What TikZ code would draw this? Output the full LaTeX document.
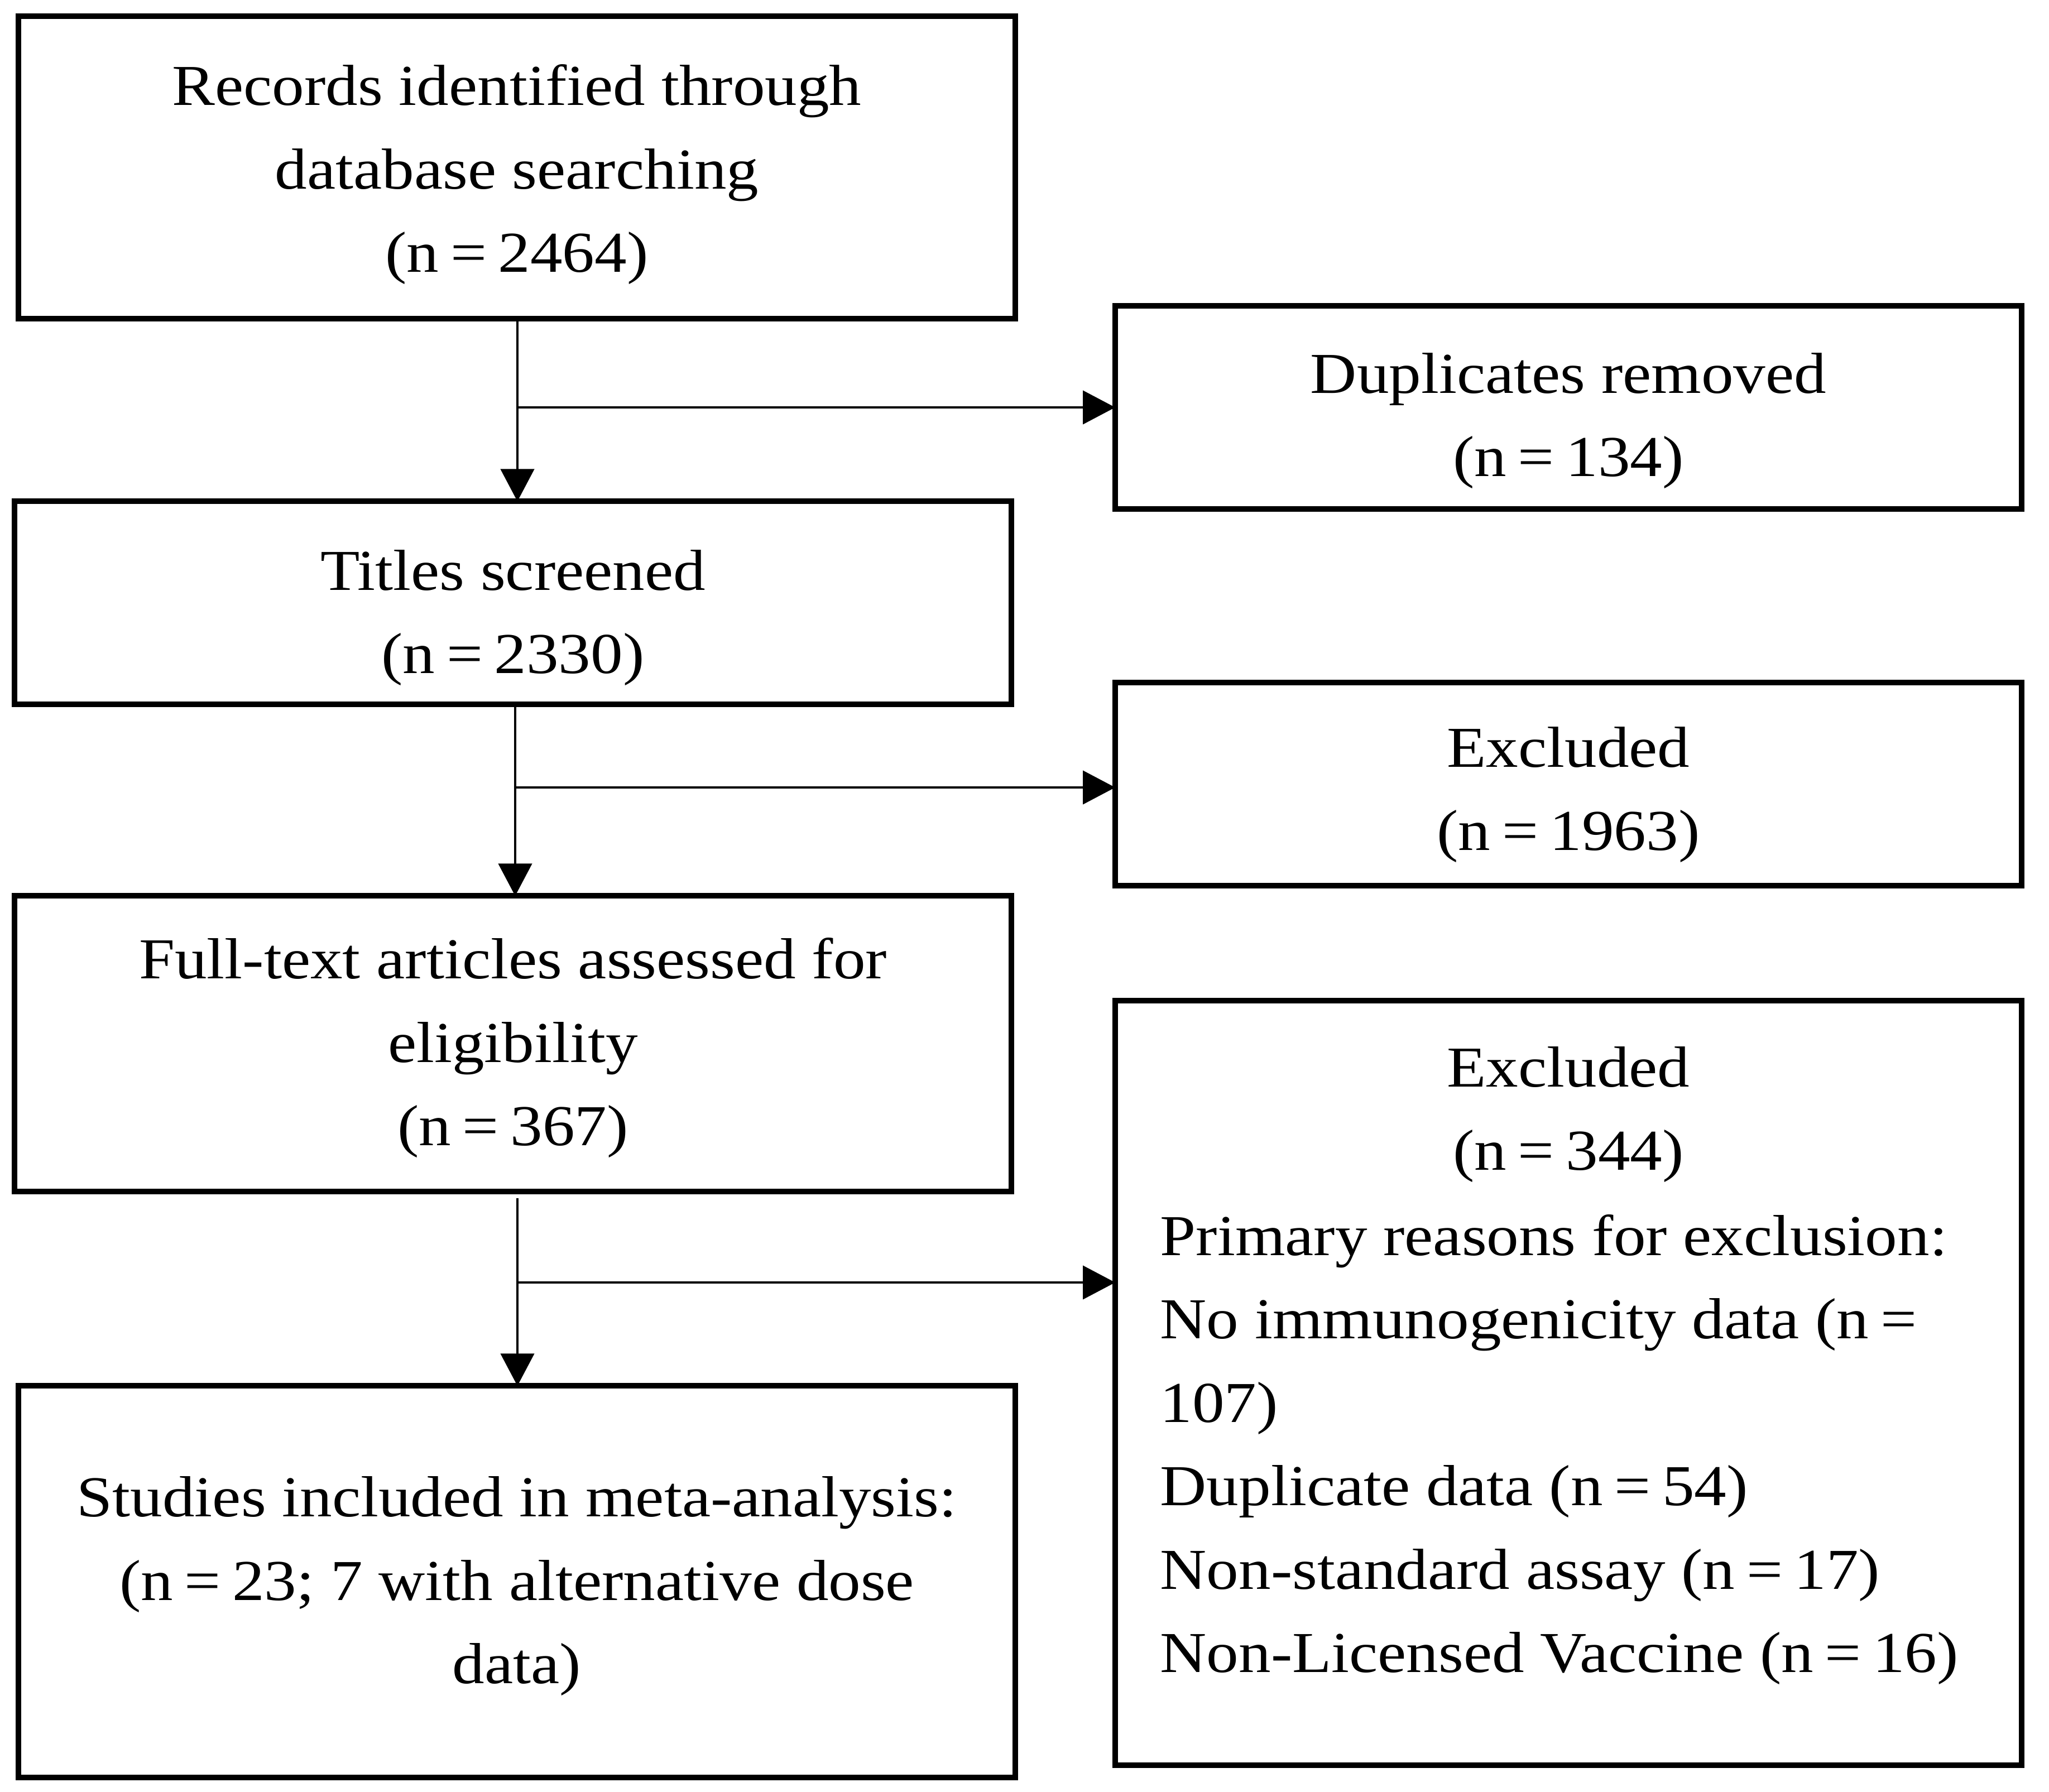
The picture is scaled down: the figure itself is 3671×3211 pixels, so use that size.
\documentclass[tikz,border=0pt]{standalone}
\usepackage{fontspec}
\setmainfont[FakeStretch=1.11]{Liberation Serif}
\usetikzlibrary{arrows.meta}
\newcommand\sst{\rule[-0.31cm]{0pt}{1.14cm}}
\newcommand\eqs{\hspace{0.2em}=\hspace{0.2em}}
\begin{document}
\begin{tikzpicture}[x=0.01cm,y=-0.01cm,
  box/.style={draw=black, line width=0.1cm, inner sep=0pt, outer sep=0pt},
  txt/.style={font=\fontsize{29.5}{42.5}\selectfont, align=center, inner sep=0pt},
  txtl/.style={font=\fontsize{29.5}{42.5}\selectfont, align=left, inner sep=0pt},
  arr/.style={line width=0.045cm, -{Triangle[length=0.58cm,width=0.6cm]}}]
\fill[white] (0,0) rectangle (3671,3211);
\useasboundingbox (0,0) rectangle (3671,3211);
% boxes
\node[box, minimum width=17.84cm, minimum height=5.41cm] (B1) at (926,300) {};
\node[box, minimum width=17.84cm, minimum height=3.63cm] (B2) at (919,1080) {};
\node[box, minimum width=17.84cm, minimum height=5.29cm] (B3) at (919,1870) {};
\node[box, minimum width=17.84cm, minimum height=7.01cm] (B4) at (926,2834) {};
\node[box, minimum width=16.23cm, minimum height=3.64cm] (D) at (2810,730) {};
\node[box, minimum width=16.23cm, minimum height=3.64cm] (E1) at (2810,1405) {};
\node[box, minimum width=16.23cm, minimum height=13.70cm] (E2) at (2810,2478) {};
% texts
\node[txt] (T1) at (926,312) {\sst Records identified through\\\sst database searching\\\sst (n\eqs 2464)};
\node[txt] (T2) at (919,1106) {\sst Titles screened\\\sst (n\eqs 2330)};
\node[txt] (T3) at (919,1877) {\sst Full-text articles assessed for\\\sst eligibility\\\sst (n\eqs 367)};
\node[txt] (T4) at (926,2841) {\sst Studies included in meta-analysis:\\\sst (n\eqs 23; 7 with alternative dose\\\sst data)};
\node[txt] (TD) at (2810,753) {\sst Duplicates removed\\\sst (n\eqs 134)};
\node[txt] (TE1) at (2810,1423) {\sst Excluded\\\sst (n\eqs 1963)};
\node[txt] (TE2a) at (2810,1996) {\sst Excluded\\\sst (n\eqs 344)};
\node[txtl, anchor=west] (TE2b) at (2078,2597) {\sst Primary reasons for exclusion:\\\sst No immunogenicity data (n\eqs\\\sst 107)\\\sst Duplicate data (n\eqs 54)\\\sst Non-standard assay (n\eqs 17)\\\sst Non-Licensed Vaccine (n\eqs 16)};
% connectors
\coordinate (j1) at (927,730);
\coordinate (j2) at (923,1411);
\coordinate (j3) at (927,2298);
\draw[arr] (B1.south -| j1) -- (B2.north -| j1);
\draw[arr] (j1) -- (D.west |- j1);
\draw[arr] (B2.south -| j2) -- (B3.north -| j2);
\draw[arr] (j2) -- (E1.west |- j2);
\draw[arr] ([yshift=-0.12cm]B3.south -| j3) -- (B4.north -| j3);
\draw[arr] (j3) -- (E2.west |- j3);
\end{tikzpicture}
\end{document}
